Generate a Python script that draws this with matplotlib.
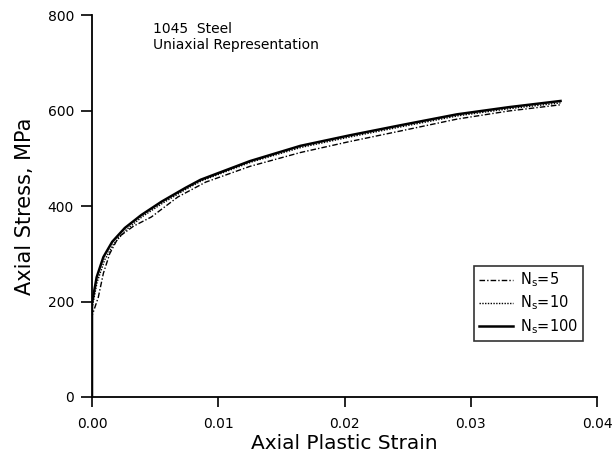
import matplotlib
matplotlib.use("Agg")
import matplotlib.pyplot as plt

plt.rcParams['font.family'] = ['DejaVu Sans']
plt.rcParams['mathtext.fontset'] = 'dejavusans'

# N_s = 100 (solid)
strain_100 = [0, 0.0, 0.00037, 0.0009, 0.0016, 0.0026, 0.0039, 0.0055, 0.0074, 0.0086, 0.0096,
              0.0125, 0.0165, 0.0204, 0.0244, 0.0289, 0.0330, 0.0371]
stress_100 = [0, 196, 251, 293, 325, 354, 381, 409, 438, 455, 465,
              494, 526, 548, 569, 592, 607, 620]

# N_s = 10 (dotted)
strain_10 = [0, 0.0, 0.0004, 0.0010, 0.0017, 0.0027, 0.0040, 0.0056, 0.0075, 0.0087, 0.0097,
             0.0126, 0.0166, 0.0205, 0.0245, 0.0290, 0.0331, 0.0371]
stress_10 = [0, 185, 240, 287, 320, 350, 378, 406, 436, 453, 463,
             492, 523, 545, 566, 589, 604, 616]

# N_s = 5 (dash-dot)
strain_5 = [0, 0.0, 0.0005, 0.0009, 0.0014, 0.0021, 0.0033, 0.0047, 0.0068, 0.0090, 0.0125,
            0.0165, 0.0204, 0.0244, 0.0289, 0.0330, 0.0371]
stress_5 = [0, 170, 209, 259, 300, 335, 358, 377, 419, 450, 483,
            512, 535, 557, 582, 599, 612]

xticks = [0.00, 0.01, 0.02, 0.03, 0.04]
xticklabels = ["0.00", "0.01", "0.02", "0.03", "0.04"]
yticks = [0, 200, 400, 600, 800]

fig = plt.figure(figsize=(6.15, 4.58), dpi=100)
ax = fig.add_axes([0.1496, 0.1332, 0.8214, 0.834])

ax.plot(strain_5, stress_5, color='black', lw=1.0, linestyle=(0, (4, 1.5, 1, 1.5)),
        label=r'$\mathrm{N}_\mathrm{s}$=5')
ax.plot(strain_10, stress_10, color='black', lw=1.0, linestyle=(0, (1, 1)),
        label=r'$\mathrm{N}_\mathrm{s}$=10')
ax.plot(strain_100, stress_100, color='black', lw=1.8, linestyle='-',
        label=r'$\mathrm{N}_\mathrm{s}$=100')

ax.set_xlim(0, 0.04)
ax.set_ylim(0, 800)
ax.set_xticks(xticks)
ax.set_xticklabels(xticklabels)
ax.set_yticks(yticks)

for s in ['top', 'right']:
    ax.spines[s].set_visible(False)
for s in ['left', 'bottom']:
    ax.spines[s].set_linewidth(1.3)

ax.tick_params(axis='both', direction='out', length=8, width=1.2, labelsize=10, colors='black')
ax.tick_params(axis='y', pad=5)
ax.tick_params(axis='x', length=7.5, pad=7)

ax.set_xlabel('Axial Plastic Strain', fontsize=14.5, labelpad=2)
ax.set_ylabel('Axial Stress, MPa', fontsize=15, labelpad=9)

ax.text(0.0048, 785, '1045  Steel\nUniaxial Representation', transform=ax.transData,
        fontsize=10, va='top', ha='left', linespacing=1.2)

leg = ax.legend(loc='upper left', bbox_to_anchor=(0.756, 0.344), borderaxespad=0,
                frameon=True, fancybox=False, edgecolor='black', fontsize=10.5,
                handlelength=2.3, handletextpad=0.5, borderpad=0.35, labelspacing=0.3)
leg.get_frame().set_linewidth(1.2)

fig.savefig('out.png', dpi=100)
